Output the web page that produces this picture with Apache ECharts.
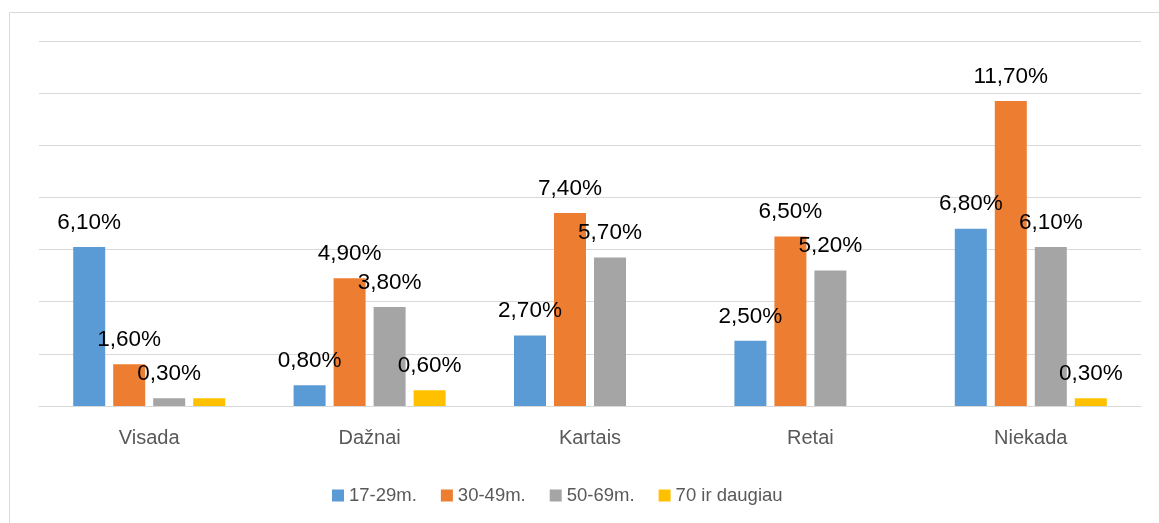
<!DOCTYPE html>
<html>
<head>
<meta charset="utf-8">
<script src="https://cdn.jsdelivr.net/npm/echarts@6/dist/echarts.min.js"></script>
<style>
  html, body { margin: 0; padding: 0; background: #fff; }
  #chart { width: 1159px; height: 523px; }
</style>
</head>
<body>
<div id="chart"></div>
<script>
// kategorijos
const categories = ['Visada', 'Dažnai', 'Kartais', 'Retai', 'Niekada']
const seriesNames = ['17-29m.', '30-49m.', '50-69m.', '70 ir daugiau']
// reiksmes procentais
const age17 = [6.1, 0.8, 2.7, 2.5, 6.8]
const age30 = [1.6, 4.9, 7.4, 6.5, 11.7]
const age50 = [0.3, 3.8, 5.7, 5.2, 6.1]
const age70 = [0.3, 0.6, null, null, 0.3]
// Excel paslepe persidengusi zyma (Visada, 70+)
const hiddenLabels = [[3, 0]]

const colors = ['#5b9bd5', '#ed7d31', '#a5a5a5', '#ffc000']
const font = '"Liberation Sans", Arial, sans-serif'

const chart = echarts.init(document.getElementById('chart'))

function makeSeries(name, values, idx) {
  return {
    name: name,
    type: 'bar',
    barWidth: 32,
    barGap: '25%',
    color: colors[idx],
    data: values.map((v, i) => {
      if (v === null) return '-'
      const hide = hiddenLabels.some(h => h[0] === idx && h[1] === i)
      return hide ? { value: v, label: { show: false } } : v
    }),
    label: {
      show: true,
      position: 'top',
      distance: 13,
      fontFamily: font,
      fontSize: 22.5,
      color: '#000',
      formatter: p => p.value.toFixed(2).replace('.', ',') + '%'
    }
  }
}

const option = {
  animation: false,
  backgroundColor: '#fff',
  textStyle: { fontFamily: font },
  graphic: [{
    type: 'rect',
    shape: { x: 9.5, y: 12.5, width: 1300, height: 700 },
    style: { fill: 'none', stroke: '#d9d9d9', lineWidth: 1 },
    silent: true
  }],
  grid: { left: 39, right: 18, top: 41, bottom: 117 },
  legend: {
    bottom: 13,
    left: 327,
    itemWidth: 12,
    itemHeight: 12,
    itemGap: 24,
    icon: 'rect',
    textStyle: { fontFamily: font, fontSize: 18.5, color: '#595959' },
    data: seriesNames
  },
  xAxis: {
    type: 'category',
    data: categories,
    axisLine: { lineStyle: { color: '#d9d9d9', width: 1 } },
    axisTick: { show: false },
    axisLabel: { fontFamily: font, fontSize: 20, color: '#595959', margin: 22 }
  },
  yAxis: {
    type: 'value',
    min: 0,
    max: 14,
    interval: 2,
    axisLabel: { show: false },
    axisLine: { show: false },
    axisTick: { show: false },
    splitLine: { lineStyle: { color: '#d9d9d9', width: 1 } }
  },
  series: [
    makeSeries(seriesNames[0], age17, 0),
    makeSeries(seriesNames[1], age30, 1),
    makeSeries(seriesNames[2], age50, 2),
    makeSeries(seriesNames[3], age70, 3)
  ]
}

chart.setOption(option)
</script>
</body>
</html>
